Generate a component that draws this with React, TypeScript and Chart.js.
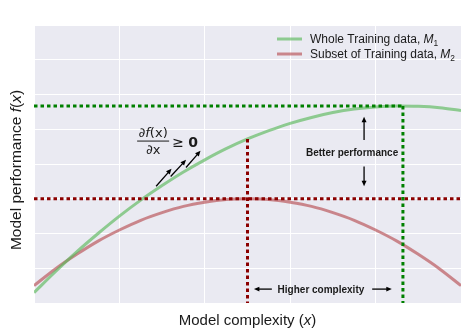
import React, { useEffect, useRef } from "react";
import { Chart, registerables } from "chart.js";

Chart.register(...registerables);

// ---- data ----
const xValues = [0, 0.5, 1, 1.5, 2, 2.5, 3, 3.5, 4, 4.5, 5, 5.5, 6, 6.5, 7, 7.5, 8, 8.5, 9, 9.5, 10];
const wholeTraining = [0.3, 0.9, 1.47, 2.0, 2.5, 2.96, 3.38, 3.77, 4.12, 4.44, 4.72, 4.96, 5.17, 5.34, 5.48, 5.58, 5.64, 5.67, 5.66, 5.62, 5.54];
const subsetTraining = [0.5, 0.98, 1.4, 1.78, 2.1, 2.38, 2.6, 2.78, 2.9, 2.98, 3.0, 2.98, 2.9, 2.78, 2.6, 2.38, 2.1, 1.78, 1.4, 0.98, 0.5];
const legendNames = ["Whole Training data, ", "Subset of Training data, "];
const legendSubscripts = ["1", "2"];
const xRange = [0, 10];
const yRange = [0, 8];
const wholeBest = { x: 8.64, y: 5.67 };
const subsetBest = { x: 5, y: 3 };
const wholeAtSubsetBest = 4.72;

// annotation anchors (data units)
const betterText = { x: 7.45, y: 4.32 };
const betterUp = [{ x: 7.73, y: 4.69 }, { x: 7.73, y: 5.36 }];
const betterDown = [{ x: 7.73, y: 3.93 }, { x: 7.73, y: 3.36 }];
const complexText = { x: 6.72, y: 0.4 };
const complexLeft = [{ x: 5.57, y: 0.4 }, { x: 5.15, y: 0.4 }];
const complexRight = [{ x: 7.92, y: 0.4 }, { x: 8.38, y: 0.4 }];
const derivText = { x: 2.79, y: 4.66 };
const slopeArrows = [
  [{ x: 2.86, y: 3.36 }, { x: 3.22, y: 3.86 }],
  [{ x: 3.2, y: 3.64 }, { x: 3.56, y: 4.12 }],
  [{ x: 3.56, y: 3.9 }, { x: 3.9, y: 4.38 }],
];

const GREEN_LINE = "rgba(90,185,90,0.65)";
const RED_LINE = "rgba(185,85,90,0.68)";
const GREEN_DOT = "#008000";
const RED_DOT = "#8b0000";
const SANS = '"Liberation Sans", Arial, sans-serif';

type Part = { t: string; italic?: boolean; bold?: boolean; sub?: boolean; size?: number; family?: string };

function drawRich(ctx: CanvasRenderingContext2D, parts: Part[], x: number, y: number, align: "left" | "center", baseSize: number, baseFamily = SANS) {
  const fontOf = (p: Part) => {
    const size = p.size ?? (p.sub ? baseSize * 0.7 : baseSize);
    return `${p.italic ? "italic " : ""}${p.bold ? "bold " : ""}${size}px ${p.family ?? baseFamily}`;
  };
  let total = 0;
  for (const p of parts) {
    ctx.font = fontOf(p);
    total += ctx.measureText(p.t).width;
  }
  let cx = align === "center" ? x - total / 2 : x;
  ctx.textBaseline = "alphabetic";
  ctx.textAlign = "left";
  for (const p of parts) {
    ctx.font = fontOf(p);
    ctx.fillText(p.t, cx, p.sub ? y + baseSize * 0.25 : y);
    cx += ctx.measureText(p.t).width;
  }
}

function arrow(ctx: CanvasRenderingContext2D, x1: number, y1: number, x2: number, y2: number, head = 5, width = 1.2) {
  const ang = Math.atan2(y2 - y1, x2 - x1);
  ctx.save();
  ctx.strokeStyle = "#000";
  ctx.fillStyle = "#000";
  ctx.lineWidth = width;
  ctx.beginPath();
  ctx.moveTo(x1, y1);
  ctx.lineTo(x2 - Math.cos(ang) * head * 0.8, y2 - Math.sin(ang) * head * 0.8);
  ctx.stroke();
  ctx.beginPath();
  ctx.moveTo(x2, y2);
  ctx.lineTo(x2 - head * Math.cos(ang) + head * 0.45 * Math.sin(ang), y2 - head * Math.sin(ang) - head * 0.45 * Math.cos(ang));
  ctx.lineTo(x2 - head * Math.cos(ang) - head * 0.45 * Math.sin(ang), y2 - head * Math.sin(ang) + head * 0.45 * Math.cos(ang));
  ctx.closePath();
  ctx.fill();
  ctx.restore();
}

const backgroundPlugin = {
  id: "bg",
  beforeDraw(chart: any) {
    const { ctx, chartArea } = chart;
    ctx.save();
    ctx.fillStyle = "#eaeaf2";
    ctx.fillRect(chartArea.left, chartArea.top, chartArea.right - chartArea.left, chartArea.bottom - chartArea.top);
    ctx.restore();
  },
};

const annotationPlugin = {
  id: "annot",
  afterDraw(chart: any) {
    const { ctx, chartArea, scales } = chart;
    const px = (v: number) => scales.x.getPixelForValue(v);
    const py = (v: number) => scales.y.getPixelForValue(v);
    ctx.save();
    ctx.fillStyle = "#1a1a1a";

    // axis titles
    drawRich(ctx, [{ t: "Model complexity (" }, { t: "x", italic: true }, { t: ")" }], (chartArea.left + chartArea.right) / 2, 325, "center", 15);
    ctx.save();
    ctx.translate(21, (chartArea.top + chartArea.bottom) / 2 + 6);
    ctx.rotate(-Math.PI / 2);
    drawRich(ctx, [{ t: "Model performance " }, { t: "f", italic: true }, { t: "(" }, { t: "x", italic: true }, { t: ")" }], 0, 0, "center", 15.5);
    ctx.restore();

    // legend
    const legendColors = [GREEN_LINE, RED_LINE];
    legendNames.forEach((name, i) => {
      const ly = 39 + i * 15;
      ctx.save();
      ctx.strokeStyle = legendColors[i];
      ctx.lineWidth = 3;
      ctx.beginPath();
      ctx.moveTo(277, ly);
      ctx.lineTo(302, ly);
      ctx.stroke();
      ctx.restore();
      drawRich(ctx, [{ t: name }, { t: "M", italic: true }, { t: legendSubscripts[i], sub: true }], 310, ly + 4, "left", 12);
    });

    // derivative label
    const dx = px(derivText.x);
    const dy = py(derivText.y);
    const mathFam = '"DejaVu Sans", sans-serif';
    drawRich(ctx, [{ t: "∂" }, { t: "f", italic: true }, { t: "(x)" }], dx, dy - 4, "center", 13, mathFam);
    ctx.save();
    ctx.strokeStyle = "#1a1a1a";
    ctx.lineWidth = 1;
    ctx.beginPath();
    ctx.moveTo(dx - 16, dy);
    ctx.lineTo(dx + 16, dy);
    ctx.stroke();
    ctx.restore();
    drawRich(ctx, [{ t: "∂x" }], dx, dy + 13, "center", 13, mathFam);
    drawRich(ctx, [{ t: "≥ ", size: 14 }, { t: "0", bold: true, size: 14 }], dx + 19, dy + 6, "left", 14, mathFam);

    slopeArrows.forEach(([a, b]) => arrow(ctx, px(a.x), py(a.y), px(b.x), py(b.y), 5.5, 1.3));

    // better performance
    ctx.fillStyle = "#1a1a1a";
    drawRich(ctx, [{ t: "Better performance", bold: true }], px(betterText.x), py(betterText.y) + 3.5, "center", 10);
    arrow(ctx, px(betterUp[0].x), py(betterUp[0].y), px(betterUp[1].x), py(betterUp[1].y), 5.5, 1.3);
    arrow(ctx, px(betterDown[0].x), py(betterDown[0].y), px(betterDown[1].x), py(betterDown[1].y), 5.5, 1.3);

    // higher complexity
    drawRich(ctx, [{ t: "Higher complexity", bold: true }], px(complexText.x), py(complexText.y) + 3.5, "center", 10);
    arrow(ctx, px(complexLeft[0].x), py(complexLeft[0].y), px(complexLeft[1].x), py(complexLeft[1].y), 5.5, 1.3);
    arrow(ctx, px(complexRight[0].x), py(complexRight[0].y), px(complexRight[1].x), py(complexRight[1].y), 5.5, 1.3);

    ctx.restore();
  },
};

export default function App() {
  const ref = useRef<HTMLCanvasElement | null>(null);
  useEffect(() => {
    document.body.style.margin = "0";
    const canvas = ref.current;
    if (!canvas) return;
    const curve = (ys: number[]) => xValues.map((x, i) => ({ x, y: ys[i] }));
    const dotted = {
      showLine: true,
      pointRadius: 0,
      borderWidth: 3,
      borderDash: [3.5, 3],
      borderCapStyle: "butt" as const,
      fill: false,
      tension: 0,
      order: 0,
    };
    const chart = new Chart(canvas, {
      type: "scatter",
      data: {
        datasets: [
          { ...dotted, label: "best whole h", data: [{ x: xRange[0], y: wholeBest.y }, { x: wholeBest.x, y: wholeBest.y }], borderColor: GREEN_DOT },
          { ...dotted, label: "best whole v", data: [{ x: wholeBest.x, y: wholeBest.y }, { x: wholeBest.x, y: yRange[0] }], borderColor: GREEN_DOT },
          { ...dotted, label: "best subset h", data: [{ x: xRange[0], y: subsetBest.y }, { x: xRange[1], y: subsetBest.y }], borderColor: RED_DOT },
          { ...dotted, label: "best subset v", data: [{ x: subsetBest.x, y: wholeAtSubsetBest }, { x: subsetBest.x, y: yRange[0] }], borderColor: RED_DOT },
          {
            label: "Whole Training data, M1",
            data: curve(wholeTraining),
            showLine: true,
            pointRadius: 0,
            borderColor: GREEN_LINE,
            borderWidth: 3,
            cubicInterpolationMode: "monotone",
            order: 1,
          },
          {
            label: "Subset of Training data, M2",
            data: curve(subsetTraining),
            showLine: true,
            pointRadius: 0,
            borderColor: RED_LINE,
            borderWidth: 3,
            cubicInterpolationMode: "monotone",
            order: 1,
          },
        ],
      },
      options: {
        animation: false,
        responsive: false,
        maintainAspectRatio: false,
        events: [],
        layout: { padding: { left: 34, top: 25, right: 10, bottom: 30 } },
        plugins: { legend: { display: false }, tooltip: { enabled: false } },
        scales: {
          x: {
            type: "linear",
            min: xRange[0],
            max: xRange[1],
            ticks: { display: false, stepSize: 2 },
            grid: { color: "#ffffff", lineWidth: 1, drawTicks: false },
            border: { display: false },
          },
          y: {
            type: "linear",
            min: yRange[0],
            max: yRange[1],
            ticks: { display: false, stepSize: 1 },
            grid: { color: "#ffffff", lineWidth: 1, drawTicks: false },
            border: { display: false },
          },
        },
      },
      plugins: [backgroundPlugin, annotationPlugin],
    });
    return () => chart.destroy();
  }, []);
  return <canvas ref={ref} width={471} height={333} style={{ display: "block" }} />;
}
